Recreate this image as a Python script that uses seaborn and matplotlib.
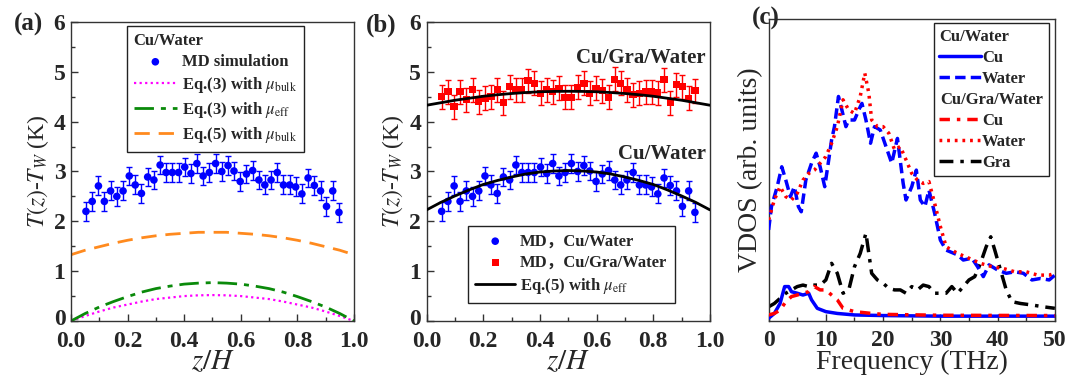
import numpy as np
import matplotlib
matplotlib.use("Agg")
import matplotlib.pyplot as plt
from matplotlib.lines import Line2D
from matplotlib.ticker import MultipleLocator, NullLocator
from matplotlib.font_manager import FontProperties
from matplotlib.transforms import ScaledTranslation
import seaborn as sns

# ---------------- data ----------------
z_md = [0.053, 0.075, 0.097, 0.118, 0.140, 0.162, 0.184, 0.206, 0.227, 0.249,
        0.271, 0.293, 0.315, 0.336, 0.358, 0.380, 0.402, 0.424, 0.445, 0.467,
        0.489, 0.511, 0.533, 0.555, 0.576, 0.598, 0.620, 0.642, 0.664, 0.685,
        0.707, 0.729, 0.751, 0.773, 0.794, 0.816, 0.838, 0.860, 0.882, 0.903,
        0.925, 0.947]
t_cu_water = [2.20, 2.40, 2.71, 2.40, 2.61, 2.50, 2.61, 2.91, 2.73, 2.56,
              2.89, 2.83, 3.13, 2.98, 2.98, 2.98, 3.09, 2.96, 3.16, 2.91,
              2.98, 3.16, 3.00, 3.12, 3.01, 2.80, 2.95, 3.02, 2.83, 2.73,
              2.83, 2.98, 2.73, 2.73, 2.69, 2.55, 2.87, 2.72, 2.61, 2.30,
              2.61, 2.18]
err_cu_water = 0.19
t_cu_gra_water = [4.50, 4.60, 4.30, 4.60, 4.44, 4.64, 4.40, 4.47, 4.50, 4.64,
                  4.38, 4.70, 4.64, 4.64, 4.82, 4.77, 4.57, 4.64, 4.60, 4.67,
                  4.49, 4.49, 4.69, 4.77, 4.57, 4.67, 4.62, 4.49, 4.85, 4.77,
                  4.64, 4.54, 4.57, 4.60, 4.60, 4.58, 4.84, 4.38, 4.74, 4.70,
                  4.47, 4.62]
err_cu_gra_water = 0.24

z_fit = [0.0, 0.05, 0.10, 0.15, 0.20, 0.25, 0.30, 0.35, 0.40, 0.45, 0.50,
         0.55, 0.60, 0.65, 0.70, 0.75, 0.80, 0.85, 0.90, 0.95, 1.0]
eq3_bulk = [0.0, 0.10, 0.19, 0.27, 0.33, 0.39, 0.44, 0.47, 0.50, 0.515, 0.52,
            0.515, 0.50, 0.47, 0.44, 0.39, 0.33, 0.27, 0.19, 0.10, 0.0]
eq3_eff = [0.0, 0.15, 0.28, 0.39, 0.49, 0.58, 0.65, 0.70, 0.74, 0.76, 0.77,
           0.76, 0.74, 0.70, 0.65, 0.58, 0.49, 0.39, 0.28, 0.15, 0.0]
eq5_bulk = [1.33, 1.42, 1.49, 1.56, 1.62, 1.67, 1.71, 1.74, 1.76, 1.78, 1.78,
            1.78, 1.76, 1.74, 1.71, 1.67, 1.62, 1.56, 1.49, 1.42, 1.33]
eq5_eff_cu = [2.23, 2.38, 2.51, 2.63, 2.74, 2.82, 2.89, 2.95, 2.99, 3.01, 3.02,
              3.01, 2.99, 2.95, 2.89, 2.82, 2.74, 2.63, 2.51, 2.38, 2.23]
eq5_eff_gra = [4.33, 4.38, 4.43, 4.47, 4.51, 4.54, 4.565, 4.585, 4.60, 4.607, 4.61,
               4.607, 4.60, 4.585, 4.565, 4.54, 4.51, 4.47, 4.43, 4.38, 4.33]

# VDOS (arb. units)
f_water_cw = [0, 0.5, 1.5, 2.3, 3, 3.8, 4.5, 5.2, 5.7, 6.5, 7.5, 8.3, 9, 9.8, 10.5,
              11, 11.5, 12.2, 12.8, 13.5, 14, 15, 16, 16.3, 17, 17.8, 18.5, 19.5,
              20.5, 21.5, 22.5, 23.5, 24, 25, 25.8, 26.5, 27.3, 28, 29, 30, 31, 33,
              34, 35.5, 36.5, 37.5, 38.5, 40, 41.5, 43, 44.5, 46, 47.5, 49, 50]
v_water_cw = [3.01, 3.78, 4.44, 5.10, 4.66, 4.11, 4.44, 3.78, 3.61, 4.66, 5.22, 5.55,
              5.10, 4.44, 5.33, 5.99, 6.43, 7.43, 6.98, 6.43, 6.65, 6.65, 7.09, 7.20,
              6.65, 5.88, 6.43, 6.32, 5.77, 5.22, 6.04, 4.55, 4.00, 4.44, 4.99, 4.00,
              3.78, 4.33, 3.56, 2.67, 2.34, 2.18, 2.01, 2.07, 1.79, 1.46, 1.85, 1.68,
              1.57, 1.62, 1.57, 1.35, 1.40, 1.35, 1.51]
f_water_cgw = [0, 1, 2, 3, 4, 5, 6, 7, 8, 9, 10, 11, 12, 13, 14, 15, 16, 16.8, 17.5,
               18, 19, 20, 21, 22, 23, 24, 25, 26, 27, 28, 29, 30, 31, 33, 35, 37,
               39, 41, 43, 45, 47, 49, 50]
v_water_cgw = [3.34, 4.00, 4.44, 4.11, 4.00, 4.22, 4.66, 4.88, 4.99, 5.22, 5.44,
               5.88, 6.43, 7.32, 6.98, 6.87, 7.43, 8.20, 7.54, 6.65, 6.43, 6.43,
               6.21, 5.66, 5.77, 5.33, 4.88, 4.66, 4.55, 4.61, 3.89, 3.12, 2.45,
               2.23, 2.07, 1.90, 1.79, 1.73, 1.62, 1.62, 1.51, 1.51, 1.57]
f_cu_cw = [0, 1, 2, 2.8, 3.5, 4, 5, 6, 7, 7.5, 8.5, 10, 12, 15, 20, 30, 40, 50]
v_cu_cw = [0.08, 0.24, 0.57, 1.13, 1.13, 0.96, 0.91, 0.85, 0.91, 0.69, 0.41, 0.30,
           0.24, 0.19, 0.17, 0.15, 0.15, 0.15]
f_cu_cgw = [0, 1, 2, 3, 4, 5, 6, 7, 8, 9, 10, 11, 12, 13, 15, 18, 20, 30, 50]
v_cu_cgw = [0.19, 0.24, 0.35, 0.63, 0.80, 0.85, 0.91, 0.96, 1.13, 1.02, 1.02, 0.85,
            0.69, 0.41, 0.30, 0.24, 0.21, 0.18, 0.17]
f_gra = [0, 1, 2, 3, 4, 5, 6, 7, 8, 9, 10, 11, 12, 13, 14, 15, 16, 17, 17.5, 18, 19,
         20, 21, 22, 23, 24, 25, 26, 27, 28, 29, 30, 31, 32, 33, 34, 35, 36, 37, 38,
         38.8, 39.5, 40.5, 41.5, 42.5, 44, 46, 48, 50]
v_gra = [0.46, 0.57, 0.74, 0.91, 1.02, 1.13, 1.18, 1.13, 1.18, 1.18, 1.35, 1.90,
         1.57, 0.91, 1.02, 1.79, 2.23, 2.90, 2.23, 1.57, 1.35, 1.24, 1.07, 1.02,
         1.02, 0.91, 1.13, 1.02, 1.18, 1.13, 0.91, 0.91, 0.91, 1.13, 0.91, 1.13,
         1.35, 1.46, 1.90, 2.45, 2.78, 2.34, 1.68, 1.02, 0.63, 0.57, 0.52, 0.46, 0.41]

# ---------------- style ----------------
sns.set_style("ticks")
plt.rcParams["font.family"] = ["Liberation Serif", "Noto Sans CJK SC", "DejaVu Serif"]
plt.rcParams["mathtext.fontset"] = "stix"
plt.rcParams["axes.linewidth"] = 1.0
plt.rcParams["axes.edgecolor"] = "#333333"

BLUE = "#0000FF"
RED = "#FF0000"
MAG = "#FF00FF"
GREEN = "#0A8A0A"
ORANGE = "#FF8A1E"

fig = plt.figure(figsize=(10.69, 3.82), dpi=100)
ax_a = fig.add_axes([0.0664, 0.1597, 0.2647, 0.7827])
ax_b = fig.add_axes([0.3991, 0.1597, 0.2650, 0.7827])
ax_c = fig.add_axes([0.7190, 0.1605, 0.2678, 0.7900])

tick_fp = dict(fontsize=17, fontweight="bold")
leg_fp = FontProperties(family=["Liberation Serif", "Noto Sans CJK SC"], weight="bold", size=12)
ylab = r"$T(z)$-$T_{W}$ (K)"


def style_T_axis(ax):
    ax.set_xlim(0, 1)
    ax.set_ylim(0, 6)
    ax.xaxis.set_major_locator(MultipleLocator(0.2))
    ax.xaxis.set_minor_locator(MultipleLocator(0.1))
    ax.yaxis.set_major_locator(MultipleLocator(1))
    ax.yaxis.set_minor_locator(MultipleLocator(0.5))
    ax.tick_params(which="both", direction="in", top=False, right=False, color="#333333")
    ax.tick_params(which="major", length=5, width=1)
    ax.tick_params(which="minor", length=3, width=1)
    ax.tick_params(axis="x", pad=7)
    ax.tick_params(axis="y", pad=4)
    ax.set_xticks([0, 0.2, 0.4, 0.6, 0.8, 1.0])
    ax.set_xticklabels(["0.0", "0.2", "0.4", "0.6", "0.8", "1.0"], **tick_fp)
    ax.set_yticks([0, 1, 2, 3, 4, 5, 6])
    ax.set_yticklabels(["0", "1", "2", "3", "4", "5", "6"], **tick_fp)
    # lift the bottom "0" a touch so it clears the "0.0" below it
    lab0 = ax.get_yticklabels()[0]
    lab0.set_transform(lab0.get_transform() + ScaledTranslation(0, 3 / 72, fig.dpi_scale_trans))
    ax.set_xlabel(r"$z/H$", fontsize=21, labelpad=-2)
    ax.set_ylabel(ylab, fontsize=17, labelpad=2)
    for s in ax.spines.values():
        s.set_visible(True)


# ---------------- panel (a) ----------------
ax = ax_a
ax.errorbar(z_md, t_cu_water, yerr=err_cu_water, fmt="none", ecolor=BLUE,
            elinewidth=1.0, capsize=2, capthick=1.0, zorder=2)
sns.scatterplot(x=z_md, y=t_cu_water, ax=ax, color=BLUE, marker="o", s=30,
                edgecolor="none", label="MD simulation", zorder=3)
sns.lineplot(x=z_fit, y=eq3_bulk, ax=ax, color=MAG, lw=1.6, linestyle=(0, (1, 1.5)),
             estimator=None, label=r"Eq.(3) with $\mu_{\rm bulk}$")
sns.lineplot(x=z_fit, y=eq3_eff, ax=ax, color=GREEN, lw=2.0, linestyle=(0, (7, 2.5, 1.8, 2.5)),
             estimator=None, label=r"Eq.(3) with $\mu_{\rm eff}$")
sns.lineplot(x=z_fit, y=eq5_bulk, ax=ax, color=ORANGE, lw=2.0, linestyle=(0, (5.5, 3.2)),
             estimator=None, label=r"Eq.(5) with $\mu_{\rm bulk}$")
style_T_axis(ax)
leg = ax.legend(loc="upper left", bbox_to_anchor=(0.198, 0.985), borderaxespad=0,
                title="Cu/Water",
                prop=leg_fp, title_fontproperties=leg_fp, alignment="left",
                frameon=True, fancybox=False, edgecolor="#222222", framealpha=1,
                handlelength=2.6, handletextpad=0.3, labelspacing=0.3,
                borderpad=0.4, markerscale=1.0)
leg.get_frame().set_linewidth(1.0)
fig.text(0.013, 0.935, "(a)", fontsize=18, fontweight="bold", va="center")

# ---------------- panel (b) ----------------
ax = ax_b
ax.errorbar(z_md, t_cu_water, yerr=err_cu_water, fmt="none", ecolor=BLUE,
            elinewidth=1.0, capsize=2, capthick=1.0, zorder=2)
ax.errorbar(z_md, t_cu_gra_water, yerr=err_cu_gra_water, fmt="none", ecolor=RED,
            elinewidth=1.0, capsize=2, capthick=1.0, zorder=2)
sns.scatterplot(x=z_md, y=t_cu_water, ax=ax, color=BLUE, marker="o", s=30,
                edgecolor="none", label="MD\uff0cCu/Water", zorder=3)
sns.scatterplot(x=z_md, y=t_cu_gra_water, ax=ax, color=RED, marker="s", s=28,
                edgecolor="none", label="MD\uff0cCu/Gra/Water", zorder=3)
sns.lineplot(x=z_fit, y=eq5_eff_cu, ax=ax, color="black", lw=2.0, estimator=None,
             label=r"Eq.(5) with $\mu_{\rm eff}$", zorder=4)
sns.lineplot(x=z_fit, y=eq5_eff_gra, ax=ax, color="black", lw=2.0, estimator=None,
             zorder=4)
style_T_axis(ax)
ax.text(0.985, 5.27, "Cu/Gra/Water", ha="right", va="center", fontsize=15, fontweight="bold")
ax.text(0.985, 3.36, "Cu/Water", ha="right", va="center", fontsize=15, fontweight="bold")
h, l = ax.get_legend_handles_labels()
leg = ax.legend(h[:3], l[:3], loc="lower left", bbox_to_anchor=(0.145, 0.06),
                borderaxespad=0,
                prop=leg_fp, frameon=True, fancybox=False, edgecolor="#222222",
                framealpha=1, handlelength=2.4, handletextpad=0.3,
                labelspacing=0.3, borderpad=0.45)
leg.get_frame().set_linewidth(1.0)
fig.text(0.342, 0.935, "(b)", fontsize=18, fontweight="bold", va="center")

# ---------------- panel (c) ----------------
ax = ax_c
sns.lineplot(x=f_cu_cw, y=v_cu_cw, ax=ax, color=BLUE, lw=2.5, estimator=None,
             label="Cu", zorder=3)
sns.lineplot(x=f_water_cw, y=v_water_cw, ax=ax, color=BLUE, lw=2.5,
             linestyle=(0, (3, 1.5)), estimator=None, label="Water", zorder=3)
sns.lineplot(x=f_cu_cgw, y=v_cu_cgw, ax=ax, color=RED, lw=2.5,
             linestyle=(0, (3, 2, 1, 2)), estimator=None, label="Cu", zorder=4)
sns.lineplot(x=f_water_cgw, y=v_water_cgw, ax=ax, color=RED, lw=2.5,
             linestyle=(0, (0.8, 1.4)), estimator=None, label="Water", zorder=4)
sns.lineplot(x=f_gra, y=v_gra, ax=ax, color="black", lw=2.5,
             linestyle=(0, (4, 2, 1, 2)), estimator=None, label="Gra", zorder=2)
ax.set_xlim(0, 50)
ax.set_ylim(0, 10)
ax.xaxis.set_major_locator(MultipleLocator(10))
ax.xaxis.set_minor_locator(MultipleLocator(5))
ax.yaxis.set_major_locator(NullLocator())
ax.yaxis.set_minor_locator(NullLocator())
ax.tick_params(which="both", direction="in", top=False, right=False, color="#333333")
ax.tick_params(which="major", length=5, width=1, pad=7)
ax.tick_params(which="minor", length=3, width=1)
ax.set_xticks([0, 10, 20, 30, 40, 50])
ax.set_xticklabels(["0", "10", "20", "30", "40", "50"], **tick_fp)
ax.set_xlabel("Frequency (THz)", fontsize=20, labelpad=-1)
ax.set_ylabel("VDOS (arb. units)", fontsize=20, labelpad=4)

h, l = ax.get_legend_handles_labels()
blank = Line2D([], [], color="none")
handles = [h[0], h[1], blank, h[2], h[3], h[4]]
labels = [l[0], l[1], "Cu/Gra/Water", l[2], l[3], l[4]]
leg_fp_c = FontProperties(family=["Liberation Serif"], weight="bold", size=12)
leg = ax.legend(handles, labels, loc="upper right", bbox_to_anchor=(0.979, 0.987),
                borderaxespad=0,
                title="Cu/Water", title_fontproperties=leg_fp_c, alignment="left",
                prop=leg_fp_c, frameon=True, fancybox=False, edgecolor="#222222",
                framealpha=1, handlelength=2.5, handletextpad=0.05,
                labelspacing=0.3, borderpad=0.35)
leg.get_frame().set_linewidth(1.0)
# make the sub-heading row start at the left edge (no handle space)
col = leg._legend_handle_box.get_children()[0]
row = col.get_children()[2]
row.get_children()[0].width = 0
fig.text(0.703, 0.952, "(c)", fontsize=18, fontweight="bold", va="center")

fig.savefig("out.png", dpi=100)
